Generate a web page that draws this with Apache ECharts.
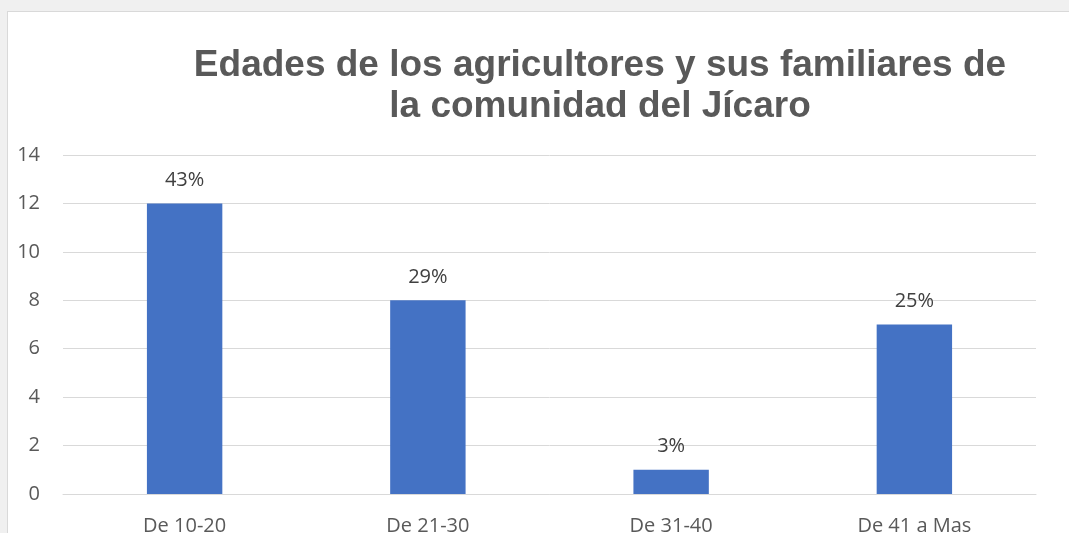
<!DOCTYPE html>
<html>
<head>
<meta charset="utf-8">
<script src="https://cdn.jsdelivr.net/npm/echarts@6/dist/echarts.min.js"></script>
<style>
  html, body { margin: 0; padding: 0; background: #f0f0f0; }
  #box {
    position: absolute; left: 7px; top: 11px; width: 1080px; height: 540px;
    background: #fff; border: 1px solid #d9d9d9; box-sizing: border-box;
  }
  #chart { position: absolute; left: 0; top: 0; width: 1069px; height: 533px; }
</style>
</head>
<body>
<div id="box"></div>
<div id="chart"></div>
<script>
const categories = ['De 10-20', 'De 21-30', 'De 31-40', 'De 41 a Mas'];
const counts = [12, 8, 1, 7];
const percentLabels = ['43%', '29%', '3%', '25%'];

const chart = echarts.init(document.getElementById('chart'), null, { renderer: 'canvas' });

chart.setOption({
    backgroundColor: 'transparent',
    animation: false,
    title: {
        text: 'Edades de los agricultores y sus familiares de\nla comunidad del Jícaro',
        left: 595,
        textAlign: 'center',
        top: 40,
        textStyle: {
            fontFamily: 'Liberation Sans, Arial, sans-serif',
            fontWeight: 'bold',
            fontSize: 37,
            lineHeight: 41,
            color: '#595959'
        }
    },
    grid: { left: 63, right: 33, top: 155, bottom: 39, containLabel: false, outerBoundsMode: 'none' },
    xAxis: {
        type: 'category',
        data: categories,
        axisLine: { show: true, lineStyle: { color: '#d9d9d9', width: 1 } },
        axisTick: { show: false },
        axisLabel: {
            color: '#595959', fontSize: 20, margin: 22,
            fontFamily: 'Open Sans, sans-serif'
        }
    },
    yAxis: {
        type: 'value',
        min: 0, max: 14, interval: 2,
        axisLine: { show: false },
        axisTick: { show: false },
        splitLine: { lineStyle: { color: '#d9d9d9', width: 1 } },
        axisLabel: {
            color: '#595959', fontSize: 20, margin: 23,
            fontFamily: 'Open Sans, sans-serif'
        }
    },
    series: [{
        type: 'bar',
        data: counts,
        barWidth: '31%',
        itemStyle: { color: '#4472c4' },
        label: {
            show: true,
            position: 'top',
            distance: 13,
            color: '#404040',
            fontSize: 20,
            fontFamily: 'Open Sans, sans-serif',
            formatter: p => percentLabels[p.dataIndex]
        }
    }]
});
</script>
</body>
</html>
